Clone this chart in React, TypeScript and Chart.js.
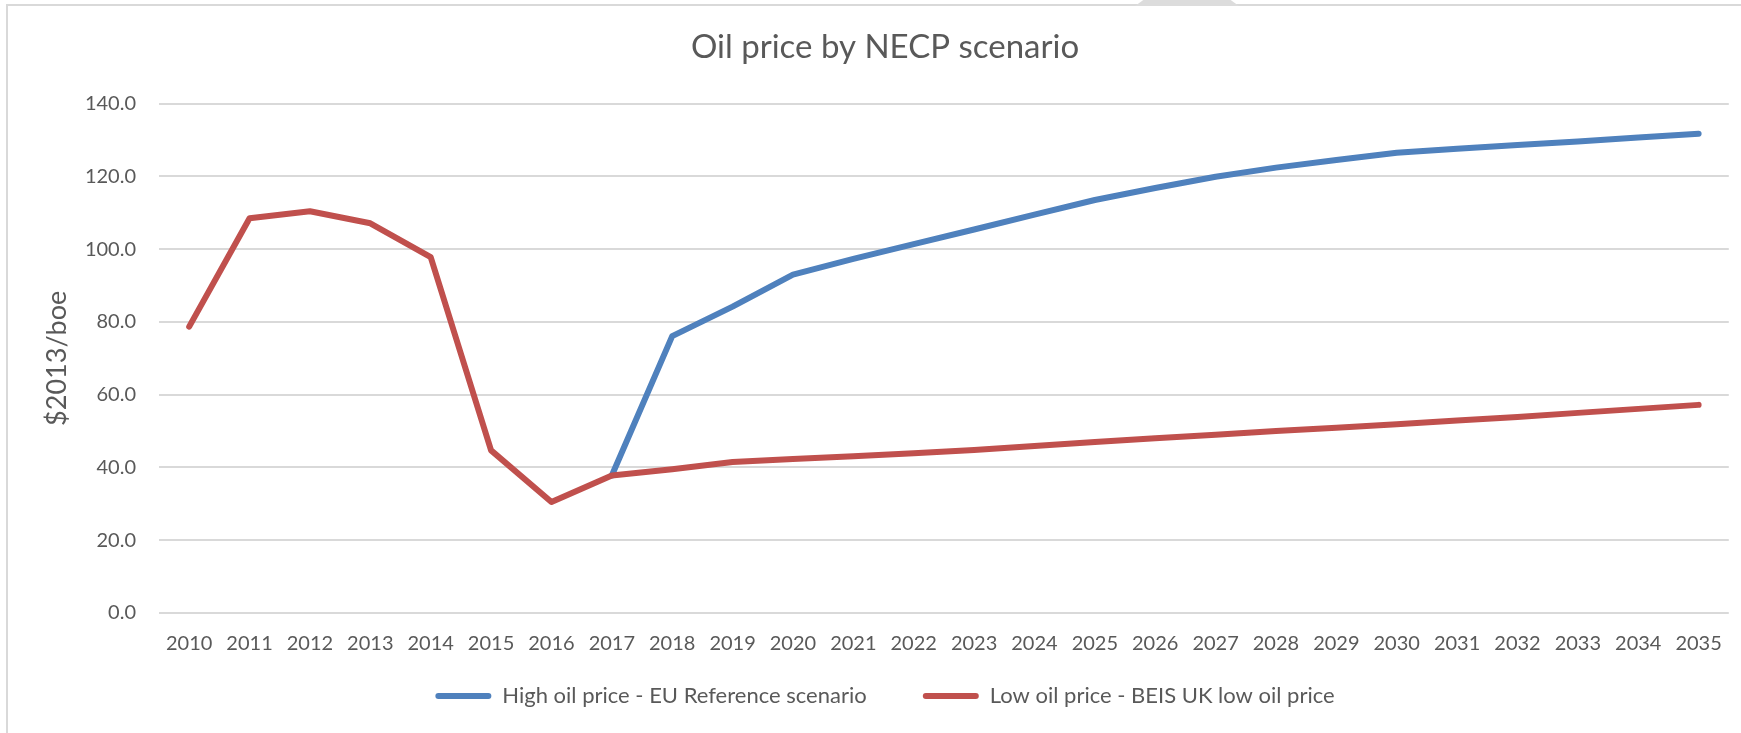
import React, { useEffect, useRef } from "react";
import { Chart, registerables } from "chart.js";

Chart.register(...registerables);

const years = [
  "2010", "2011", "2012", "2013", "2014", "2015", "2016", "2017", "2018",
  "2019", "2020", "2021", "2022", "2023", "2024", "2025", "2026", "2027",
  "2028", "2029", "2030", "2031", "2032", "2033", "2034", "2035",
];

const highOilPrice = [
  null, null, null, null, null, null, null,
  37.8, 76.1, 84.2, 93.0, 97.3, 101.4, 105.4, 109.5, 113.5, 116.8, 119.9,
  122.4, 124.5, 126.5, 127.6, 128.6, 129.6, 130.7, 131.7,
];

const lowOilPrice = [
  78.7, 108.5, 110.4, 107.1, 97.8, 44.7, 30.5, 37.8, 39.5, 41.5, 42.3, 43.1,
  43.9, 44.8, 45.9, 47.0, 48.0, 49.0, 50.0, 50.9, 51.9, 52.9, 53.9, 55.0,
  56.1, 57.2,
];

const yMin = 0;
const yMax = 140;
const yStep = 20;

const chartTitle = "Oil price by NECP scenario";
const yAxisTitle = "$2013/boe";
const highLabel = "High oil price - EU Reference scenario";
const lowLabel = "Low oil price - BEIS UK low oil price";

const FONT = "Lato, 'Open Sans', sans-serif";
const TEXT = "#595959";
const BLUE = "#4F81BD";
const RED = "#C0504D";

export default function App() {
  const ref = useRef<HTMLCanvasElement | null>(null);

  useEffect(() => {
    if (!ref.current) return;
    const chart = new Chart(ref.current, {
      type: "line",
      data: {
        labels: years,
        datasets: [
          {
            label: highLabel,
            data: highOilPrice,
            borderColor: BLUE,
            backgroundColor: BLUE,
            borderWidth: 6,
            pointRadius: 0,
            borderCapStyle: "round",
            borderJoinStyle: "round",
            tension: 0,
            order: 1,
          },
          {
            label: lowLabel,
            data: lowOilPrice,
            borderColor: RED,
            backgroundColor: RED,
            borderWidth: 6,
            pointRadius: 0,
            borderCapStyle: "round",
            borderJoinStyle: "round",
            tension: 0,
            order: 0,
          },
        ],
      },
      options: {
        responsive: false,
        animation: false,
        layout: { padding: { left: 39, right: 10, top: 0, bottom: 16 } },
        plugins: {
          title: {
            display: true,
            text: chartTitle,
            color: TEXT,
            font: { family: FONT, size: 33, weight: "normal" },
            padding: { top: 28, bottom: 36 },
          },
          legend: {
            position: "bottom",
            maxHeight: 73,
            labels: {
              color: TEXT,
              font: { family: FONT, size: 22 },
              boxWidth: 56,
              boxHeight: 6,
              padding: 28,
              sort: (a: any, b: any) => a.datasetIndex - b.datasetIndex,
              generateLabels: (c: any) =>
                Chart.defaults.plugins.legend.labels
                  .generateLabels(c)
                  .map((l: any) => ({
                    ...l,
                    text: l.datasetIndex === 0 ? l.text + "     " : l.text,
                    lineWidth: 0,
                    borderRadius: 3,
                  })),
            },
          },
          tooltip: { enabled: false },
        },
        scales: {
          x: {
            offset: true,
            grid: { display: false, drawTicks: false },
            border: { display: false },
            ticks: {
              color: TEXT,
              font: { family: FONT, size: 20 },
              padding: 19,
              maxRotation: 0,
              autoSkip: false,
            },
            afterFit: (s: any) => {
              s.height = 44;
            },
          },
          y: {
            min: yMin,
            max: yMax,
            grid: { color: "#D9D9D9", lineWidth: 2, drawTicks: false },
            border: { display: false },
            ticks: {
              stepSize: yStep,
              color: TEXT,
              font: { family: FONT, size: 20 },
              padding: 23,
              callback: (v: any) => Number(v).toFixed(1),
            },
            title: {
              display: true,
              text: yAxisTitle,
              color: TEXT,
              font: { family: FONT, size: 27 },
              padding: { top: 2, bottom: 0 },
            },
            afterFit: (s: any) => {
              s.width = 120;
            },
          },
        },
      },
    });
    return () => chart.destroy();
  }, []);

  return (
    <div
      style={{
        position: "fixed",
        left: 0,
        top: 0,
        width: 1741,
        height: 733,
        background: "#ffffff",
        overflow: "hidden",
      }}
    >
      <div
        style={{
          position: "absolute",
          left: 6,
          top: 4,
          width: 1760,
          height: 760,
          border: "2px solid #D9D9D9",
          boxSizing: "border-box",
        }}
      />
      <div
        style={{
          position: "absolute",
          left: 1135,
          top: 0,
          width: 104,
          height: 6,
          background: "#DCDCDC",
          clipPath: "polygon(8% 0, 92% 0, 100% 100%, 0 100%)",
        }}
      />
      <canvas
        ref={ref}
        width={1741}
        height={733}
        style={{ position: "absolute", left: 0, top: 0 }}
      />
    </div>
  );
}
